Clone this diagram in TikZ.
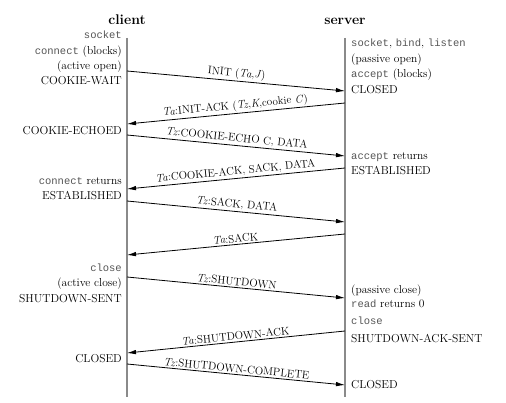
\documentclass[tikz,border=0pt]{standalone}
\usepackage{fontspec}
\newfontfamily\callfont{Liberation Mono}
\usetikzlibrary{arrows.meta}
\definecolor{lifegray}{HTML}{8A8A8A}
\definecolor{callgray}{HTML}{555555}
\tikzset{
  lifeline/.style={lifegray, line width=1.3pt},
  msg/.style={-{Latex[length=9pt,width=4.5pt]}, line width=0.8pt},
  msglabel/.style={midway, above, sloped, inner sep=1.5pt, font=\fontsize{11}{13}\selectfont},
  lstate/.style={anchor=base east, inner sep=0pt, font=\fontsize{11.5}{14}\selectfont},
  rstate/.style={anchor=base west, inner sep=0pt, font=\fontsize{11.5}{14}\selectfont},
  host/.style={anchor=base, inner sep=0pt, font=\fontsize{14}{16}\selectfont\bfseries}
}
\newcommand{\callname}[1]{{\callfont\fontsize{10.5}{13}\selectfont\color{callgray}#1}}
\begin{document}
\begin{tikzpicture}[x=1pt, y=-1pt]
        \useasboundingbox (0,0) rectangle (506,403);
        % lifelines
        \coordinate (ctop) at (127,38);
        \coordinate (cbot) at (127,397);
        \coordinate (stop) at (345,38);
        \coordinate (sbot) at (345,397);
        \draw[lifeline] (ctop) -- (cbot);
        \draw[lifeline] (stop) -- (sbot);
        \node[host] (client) at (127,25) {client};
        \node[host] (server) at (345,25) {server};
        % client side
        \node[lstate] (c-socket) at (122,39) {\callname{socket}};
        \node[lstate] (c-connect) at (122,55) {\callname{connect} (blocks)};
        \node[lstate] (c-active) at (122,70) {(active open)};
        \node[lstate] (c-wait) at (122,85) {COOKIE-WAIT};
        \node[lstate] (c-echoed) at (122,135) {COOKIE-ECHOED};
        \node[lstate] (c-returns) at (122,185) {\callname{connect} returns};
        \node[lstate] (c-estab) at (122,200) {ESTABLISHED};
        \node[lstate] (c-close) at (122,272) {\callname{close}};
        \node[lstate] (c-aclose) at (122,287) {(active close)};
        \node[lstate] (c-sent) at (122,302) {SHUTDOWN-SENT};
        \node[lstate] (c-closed) at (122,362) {CLOSED};
        % server side
        \node[rstate] (s-socket) at (351,47) {\callname{socket}, \callname{bind}, \callname{listen}};
        \node[rstate] (s-passive) at (351,62.5) {(passive open)};
        \node[rstate] (s-accept) at (351,78) {\callname{accept} (blocks)};
        \node[rstate] (s-closed) at (351,94) {CLOSED};
        \node[rstate] (s-returns) at (351,160) {\callname{accept} returns};
        \node[rstate] (s-estab) at (351,175) {ESTABLISHED};
        \node[rstate] (s-pclose) at (351,294) {(passive close)};
        \node[rstate] (s-read) at (351,308) {\callname{read} returns 0};
        \node[rstate] (s-close) at (351,325) {\callname{close}};
        \node[rstate] (s-acksent) at (351,342) {SHUTDOWN-ACK-SENT};
        \node[rstate] (s-final) at (351,388) {CLOSED};
        % message ends on the lifelines
        \coordinate (c1) at (127,71);  \coordinate (s1) at (345,91);
        \coordinate (s2) at (345,103); \coordinate (c2) at (127,124);
        \coordinate (c3) at (127,135); \coordinate (s3) at (345,156);
        \coordinate (s4) at (345,168); \coordinate (c4) at (127,189);
        \coordinate (c5) at (127,201); \coordinate (s5) at (345,222);
        \coordinate (s6) at (345,234); \coordinate (c6) at (127,255);
        \coordinate (c7) at (127,277); \coordinate (s7) at (345,298);
        \coordinate (s8) at (345,331); \coordinate (c8) at (127,353);
        \coordinate (c9) at (127,364); \coordinate (s9) at (345,385);
        % messages
        \draw[msg] (c1) -- (s1) node[msglabel] {INIT (\textit{Ta},\textit{J})};
        \draw[msg] (s2) -- (c2) node[msglabel] {\textit{Ta}:INIT-ACK (\textit{Tz},\textit{K},cookie \textit{C})};
        \draw[msg] (c3) -- (s3) node[msglabel] {\textit{Tz}:COOKIE-ECHO C, DATA};
        \draw[msg] (s4) -- (c4) node[msglabel] {\textit{Ta}:COOKIE-ACK, SACK, DATA};
        \draw[msg] (c5) -- (s5) node[msglabel] {\textit{Tz}:SACK, DATA};
        \draw[msg] (s6) -- (c6) node[msglabel] {\textit{Ta}:SACK};
        \draw[msg] (c7) -- (s7) node[msglabel] {\textit{Tz}:SHUTDOWN};
        \draw[msg] (s8) -- (c8) node[msglabel] {\textit{Ta}:SHUTDOWN-ACK};
        \draw[msg] (c9) -- (s9) node[msglabel] {\textit{Tz}:SHUTDOWN-COMPLETE};
\end{tikzpicture}
\end{document}
